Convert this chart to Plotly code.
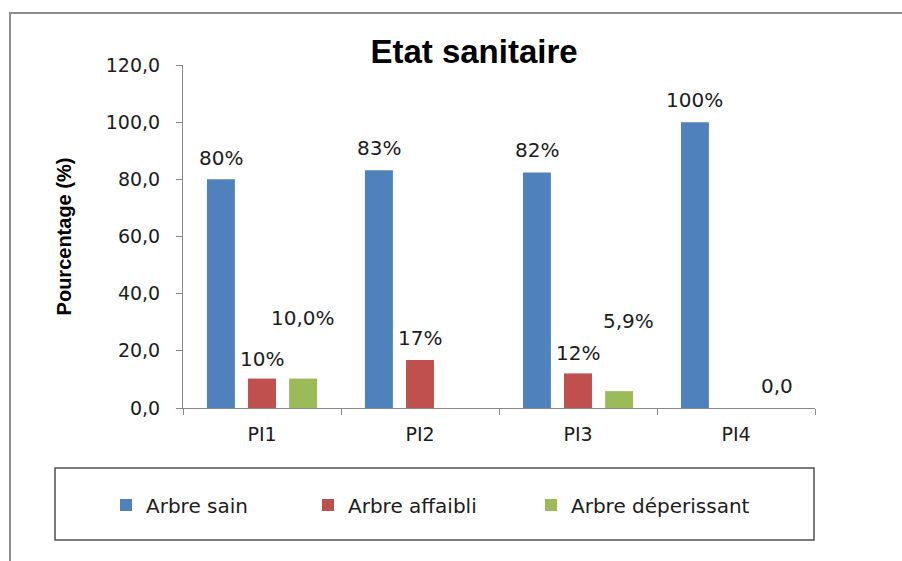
import plotly.graph_objects as go

# ---- data ----
categories = ["PI1", "PI2", "PI3", "PI4"]
series_names = ["Arbre sain", "Arbre affaibli", "Arbre déperissant"]
sain = [80.0, 83.2, 82.4, 100.0]
affaibli = [10.3, 16.8, 12.1, 0.0]
deperissant = [10.3, 0.0, 5.9, 0.0]
label_sain = ["80%", "83%", "82%", "100%"]
label_affaibli = ["10%", "17%", "12%", ""]
label_deperissant = ["10,0%", "", "5,9%", "0,0"]
y_ticks = [0, 20, 40, 60, 80, 100, 120]

# ---- style ----
colors = ["#4F81BD", "#C0504D", "#9BBB59"]
W, H = 902, 561
L, R, T, B = 183, 815, 65, 408   # plot area in px
TXT = "#1c1c1c"
AX = "#8a8a8a"
FONT = "DejaVu Sans"

def px(xp):
    return (xp - L) / (R - L)

def py(yp):
    return (B - yp) / (B - T)

values = [sain, affaibli, deperissant]
labels = [label_sain, label_affaibli, label_deperissant]
# label lift above bar top (px), per series / category
lifts = [[21, 22, 22, 22], [20, 22, 20, 20], [61, 0, 70, 22]]
label_dx = [[0, 0, 0, 0], [0, 0, 0, 0], [0, 0, 0.06, 0]]
legend_left = [106, 308, 531]
legend_keys = ["legend", "legend2", "legend3"]

bargap = 0.22
slot = (1 - bargap) / 3

fig = go.Figure()
for s in range(3):
    fig.add_trace(go.Bar(
        x=categories, y=values[s], name=series_names[s],
        marker=dict(color=colors[s], line=dict(width=0)),
        hoverinfo="skip", legend=legend_keys[s],
    ))

annotations = []
for s in range(3):
    for i in range(len(categories)):
        if labels[s][i]:
            annotations.append(dict(
                x=i + (s - 1) * slot + label_dx[s][i], y=values[s][i],
                xref="x", yref="y", text=labels[s][i], showarrow=False,
                yanchor="middle", xanchor="center", yshift=lifts[s][i],
                font=dict(family=FONT, size=20, color=TXT),
            ))

shapes = [
    # outer chart border (left + top visible)
    dict(type="rect", xref="paper", yref="paper",
         x0=px(10), x1=px(960), y0=py(620), y1=py(13),
         line=dict(color="#8c8c8c", width=2), fillcolor="rgba(0,0,0,0)", layer="below"),
    # legend box
    dict(type="rect", xref="paper", yref="paper",
         x0=px(55), x1=px(814), y0=py(540), y1=py(468),
         line=dict(color="#505050", width=1.5), fillcolor="rgba(0,0,0,0)"),
]

legends = {}
for s in range(3):
    legends[legend_keys[s]] = dict(
        orientation="h", x=px(legend_left[s]), xanchor="left",
        y=py(505), yanchor="middle",
        bgcolor="rgba(0,0,0,0)", borderwidth=0,
        font=dict(family=FONT, size=20, color=TXT))

fig.update_layout(
    width=W, height=H,
    margin=dict(l=L, r=W - R, t=T, b=H - B, autoexpand=False),
    paper_bgcolor="white", plot_bgcolor="white",
    separators=", ",
    barmode="group", bargap=bargap, bargroupgap=0.32,
    title=dict(text="<b>Etat sanitaire</b>", x=474 / W, xanchor="center",
               y=1 - 51 / H, yanchor="middle",
               font=dict(family="Liberation Sans", size=33, color="#000")),
    xaxis=dict(showline=True, linecolor=AX, linewidth=1, ticks="outside",
               tickson="boundaries", ticklen=6, tickcolor=AX,
               tickfont=dict(family=FONT, size=19, color=TXT),
               ticklabelstandoff=9, showgrid=False, zeroline=False),
    yaxis=dict(range=[0, 120], tickvals=y_ticks, tickformat=".1f",
               showline=True, linecolor=AX, linewidth=1, ticks="outside",
               ticklen=6, tickcolor=AX, showgrid=False, zeroline=False,
               tickfont=dict(family=FONT, size=19, color=TXT),
               ticklabelstandoff=12,
               title=dict(text="<b>Pourcentage (%)</b>", standoff=28,
                          font=dict(family="Liberation Sans", size=20, color="#000"))),
    showlegend=True,
    annotations=annotations,
    shapes=shapes,
    **legends,
)

fig.write_html("out.html", config={"displayModeBar": False},
               post_script="document.body.style.margin='0';")
